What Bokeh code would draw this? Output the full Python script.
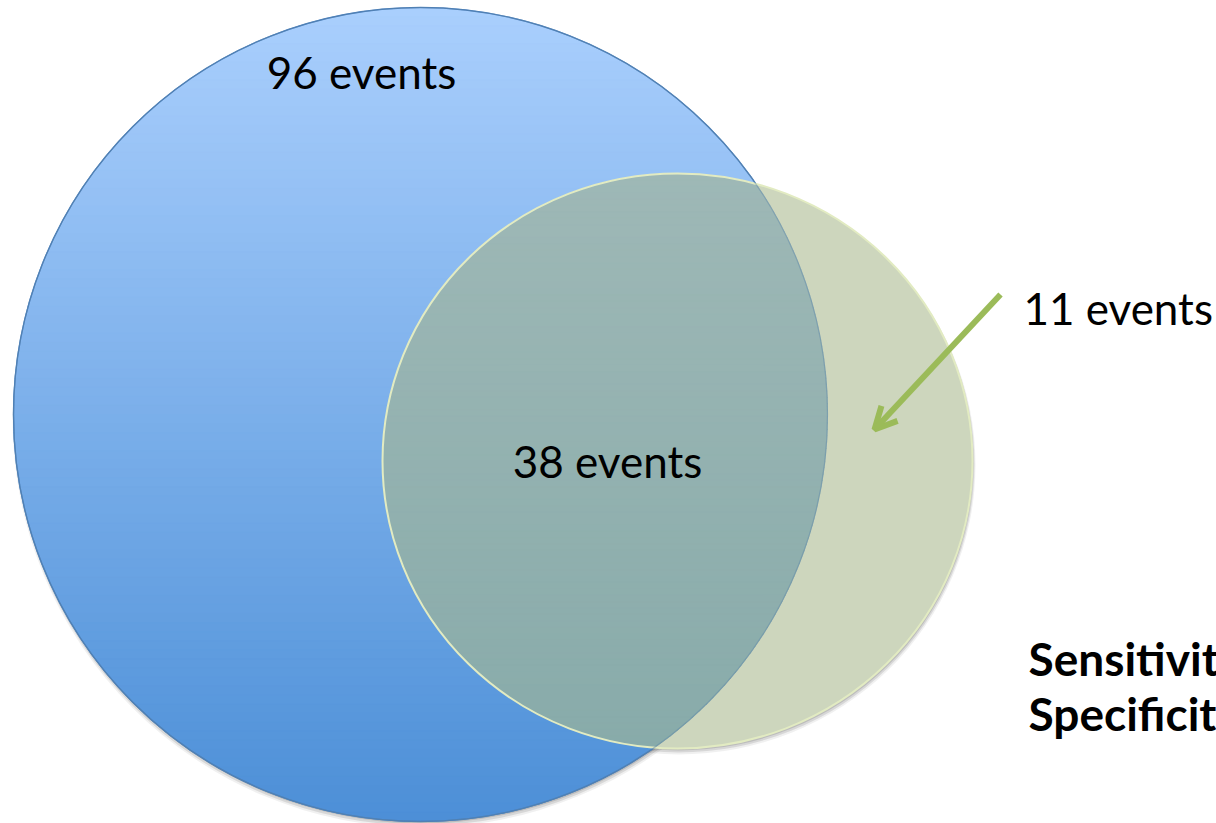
import numpy as np
from bokeh.plotting import figure
from bokeh.models import Range1d, Arrow, OpenHead, ColumnDataSource
from bokeh.core.properties import value
from bokeh.embed import file_html
from bokeh.resources import INLINE

# ---- data ----
set_labels = ["96 events", "38 events", "11 events"]
set_counts = [96, 38, 11]
metric_labels = ["Sensitivity", "Specificity"]

# ---- geometry of the two sets (pixel-like data units) ----
blue_cx, blue_cy, blue_r = 420.0, 414.0, 407.0
green_cx, green_cy, green_rx, green_ry = 677.0, 460.5, 295.0, 287.5

W, H = 1216, 823
p = figure(width=W, height=H, output_backend="svg", toolbar_location=None,
           x_range=Range1d(0, W), y_range=Range1d(H, 0),
           min_border=0, border_fill_color="white", background_fill_color="white",
           outline_line_color=None)
p.axis.visible = False
p.grid.visible = False


def lerp(c0, c1, t):
    return "#%02x%02x%02x" % tuple(int(round(a + (b - a) * t)) for a, b in zip(c0, c1))


def blue_x(y):
    d = np.sqrt(np.clip(blue_r ** 2 - (y - blue_cy) ** 2, 0, None))
    return blue_cx - d, blue_cx + d


def green_x(y):
    d = green_rx * np.sqrt(np.clip(1 - ((y - green_cy) / green_ry) ** 2, 0, None))
    return green_cx - d, green_cx + d


def band_patches(y0, y1, nb, fn, c0, c1):
    xs, ys, cols = [], [], []
    edges = np.linspace(y0, y1, nb + 1)
    for i in range(nb):
        yy = np.linspace(edges[i], edges[i + 1] + 0.6, 12)
        yy = np.clip(yy, y0, y1)
        l, r = fn(yy)
        ok = r > l
        if ok.sum() < 2:
            continue
        yy, l, r = yy[ok], l[ok], r[ok]
        xs.append(list(l) + list(r[::-1]))
        ys.append(list(yy) + list(yy[::-1]))
        cols.append(lerp(c0, c1, (0.5 * (edges[i] + edges[i + 1]) - y0) / (y1 - y0)))
    return ColumnDataSource(dict(xs=xs, ys=ys, c=cols))


# soft shadow
for off, a, extra in [(4, 0.06, 2), (3, 0.10, 1), (2, 0.12, 0)]:
    p.circle(x=[blue_cx + 1], y=[blue_cy + off], radius=blue_r + extra,
             fill_color="black", fill_alpha=a, line_color=None)
    p.ellipse(x=[green_cx + 1], y=[green_cy + off], width=2 * (green_rx + extra),
              height=2 * (green_ry + extra), fill_color="black", fill_alpha=a, line_color=None)

# blue set with vertical gradient
src_b = band_patches(blue_cy - blue_r, blue_cy + blue_r, 90, blue_x,
                     (170, 207, 253), (76, 143, 215))
p.patches("xs", "ys", source=src_b, fill_color="c", line_color="c", line_width=1)
p.circle(x=[blue_cx], y=[blue_cy], radius=blue_r, fill_color=None,
         line_color="#4a7ebb", line_width=1.4)

# green set
p.ellipse(x=[green_cx], y=[green_cy], width=2 * green_rx, height=2 * green_ry,
          fill_color="#cdd6bd", line_color=None)


def overlap_x(y):
    bl, br = blue_x(y)
    gl, gr = green_x(y)
    return np.maximum(bl, gl), np.minimum(br, gr)


src_o = band_patches(green_cy - green_ry, green_cy + green_ry, 90, overlap_x,
                     (158, 184, 182), (136, 171, 170))
p.patches("xs", "ys", source=src_o, fill_color="c", line_color="c", line_width=1)

p.ellipse(x=[green_cx], y=[green_cy], width=2 * green_rx, height=2 * green_ry,
          fill_color=None, line_color="#e2ebc2", line_width=2)
p.circle(x=[blue_cx], y=[blue_cy], radius=blue_r, fill_color=None,
         line_color="#5a86a8", line_alpha=0.45, line_width=1.2)

# arrow to the green-only area
p.add_layout(Arrow(end=OpenHead(line_color="#9bbb59", line_width=6, size=22),
                   x_start=1000, y_start=294, x_end=874, y_end=429,
                   line_color="#9bbb59", line_width=6))

# labels
lab_x = [361, 607, 1023]
lab_y = [71, 460, 307]
lab_align = ["center", "center", "left"]
p.text(x=lab_x, y=lab_y, text=set_labels, text_align=lab_align,
       text_baseline="alphabetic", text_font=value("Lato"),
       text_font_size="44px", text_color="black")

p.text(x=[1028, 1028], y=[658, 713], text=metric_labels, text_align="left",
       text_baseline="alphabetic", text_font=value("Lato"), text_font_style="bold",
       text_font_size="46px", text_color="black")

open("out.html", "w").write(file_html(p, INLINE))
